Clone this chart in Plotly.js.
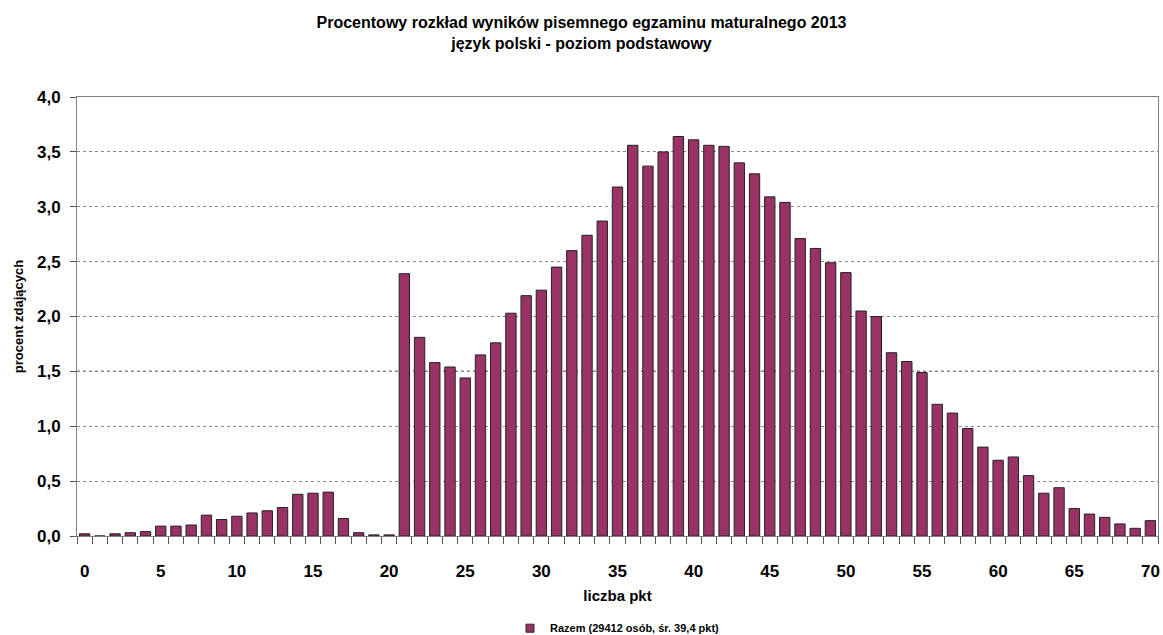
<!DOCTYPE html>
<html>
<head>
<meta charset="utf-8">
<script src="https://cdn.plot.ly/plotly-3.0.1.min.js"></script>
<style>html,body{margin:0;padding:0;background:#fff;}#chart{width:1163px;height:635px;}</style>
</head>
<body>
<div id="chart"></div>
<script>
const points = [];
for (let i = 0; i <= 70; i++) points.push(i);
const percent = [
  0.02, 0.00, 0.02, 0.03, 0.04, 0.09, 0.09, 0.10, 0.19, 0.15,
  0.18, 0.21, 0.23, 0.26, 0.38, 0.39, 0.40, 0.16, 0.03, 0.01,
  0.01, 2.39, 1.81, 1.58, 1.54, 1.44, 1.65, 1.76, 2.03, 2.19,
  2.24, 2.45, 2.60, 2.74, 2.87, 3.18, 3.56, 3.37, 3.50, 3.64,
  3.61, 3.56, 3.55, 3.40, 3.30, 3.09, 3.04, 2.71, 2.62, 2.49,
  2.40, 2.05, 2.00, 1.67, 1.59, 1.49, 1.20, 1.12, 0.98, 0.81,
  0.69, 0.72, 0.55, 0.39, 0.44, 0.25, 0.20, 0.17, 0.11, 0.07,
  0.14
];
const xTickVals = [0, 5, 10, 15, 20, 25, 30, 35, 40, 45, 50, 55, 60, 65, 70];
const yTickVals = [0, 0.5, 1.0, 1.5, 2.0, 2.5, 3.0, 3.5, 4.0];
const yTickText = ['0,0', '0,5', '1,0', '1,5', '2,0', '2,5', '3,0', '3,5', '4,0'];
const seriesName = 'Razem (29412 osób, śr. 39,4 pkt)';
const titleText = 'Procentowy rozkład wyników pisemnego egzaminu maturalnego 2013<br>język polski - poziom podstawowy';

const FONT = 'Liberation Sans, Arial, sans-serif';
const BAR_COLOR = '#993366';

const trace = {
  type: 'bar',
  x: points,
  y: percent,
  name: seriesName,
  marker: { color: BAR_COLOR, line: { color: '#222222', width: 1 } },
  showlegend: false,
  hoverinfo: 'x+y'
};

// legend-only entry with a small square swatch (like the original legend key)
const legendKey = {
  type: 'scatter',
  mode: 'markers',
  x: [null],
  y: [null],
  name: seriesName,
  marker: { symbol: 'square', size: 8, color: BAR_COLOR, line: { color: '#222222', width: 1 } },
  showlegend: true,
  hoverinfo: 'skip'
};

const layout = {
  width: 1163,
  height: 635,
  margin: { l: 77, r: 5, t: 97, b: 99, autoexpand: false },
  paper_bgcolor: '#ffffff',
  plot_bgcolor: '#ffffff',
  bargap: 0.32,
  font: { family: FONT, color: '#000' },
  title: {
    text: titleText,
    font: { family: FONT, size: 16, weight: 'bold', color: '#000', lineposition: 'none' },
    x: 0.5, xanchor: 'center', xref: 'container',
    yref: 'container', y: 1 - 28 / 635, yanchor: 'middle'
  },
  xaxis: {
    range: [-0.5, 70.5],
    tickmode: 'array',
    tickvals: xTickVals,
    ticks: '',
    ticklabelstandoff: 20,
    tickfont: { family: FONT, size: 17, weight: 'bold', color: '#000' },
    showgrid: false,
    zeroline: false,
    showline: true,
    linecolor: '#808080',
    linewidth: 1,
    mirror: true,
    minor: { tick0: 0.5, dtick: 1, ticks: 'outside', ticklen: 7, tickcolor: '#555', showgrid: false },
    title: { text: 'liczba pkt', font: { family: FONT, size: 15, weight: 'bold', color: '#000' }, standoff: 10 },
    fixedrange: true
  },
  yaxis: {
    range: [0, 4.0],
    tickmode: 'array',
    tickvals: yTickVals,
    ticktext: yTickText,
    ticks: 'outside',
    ticklen: 6,
    tickcolor: '#555',
    ticklabelstandoff: 6,
    tickfont: { family: FONT, size: 17, weight: 'bold', color: '#000' },
    showgrid: true,
    gridcolor: '#888888',
    griddash: 'dot',
    gridwidth: 1,
    zeroline: false,
    showline: true,
    linecolor: '#808080',
    linewidth: 1,
    mirror: true,
    title: { text: 'procent zdających', font: { family: FONT, size: 13, weight: 'bold', color: '#000' }, standoff: 10 },
    fixedrange: true
  },
  shapes: [
    { type: 'line', xref: 'paper', x0: 0, x1: 1, yref: 'y', y0: 1.5, y1: 1.5,
      line: { color: '#000', width: 1.2, dash: 'dot' }, layer: 'below' }
  ],
  legend: {
    orientation: 'h',
    x: 0.5, xanchor: 'center',
    y: -0.21, yanchor: 'middle',
    font: { family: FONT, size: 11, weight: 'bold', color: '#000' },
    itemwidth: 30
  },
  showlegend: true
};

Plotly.newPlot('chart', [trace, legendKey], layout, { displayModeBar: false, staticPlot: true });
</script>
</body>
</html>
